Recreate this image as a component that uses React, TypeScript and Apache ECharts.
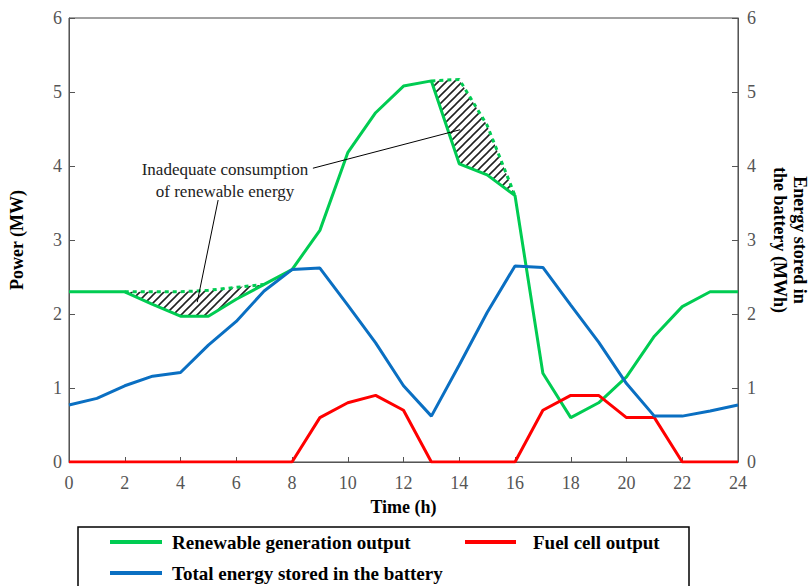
import React, { useEffect, useRef } from "react";
import * as echarts from "echarts";

const hours = [0, 1, 2, 3, 4, 5, 6, 7, 8, 9, 10, 11, 12, 13, 14, 15, 16, 17, 18, 19, 20, 21, 22, 23, 24];
const renewable = [2.3, 2.3, 2.3, 2.13, 1.97, 1.97, 2.2, 2.4, 2.6, 3.13, 4.18, 4.72, 5.08, 5.15, 4.03, 3.88, 3.6, 1.2, 0.6, 0.8, 1.15, 1.7, 2.1, 2.3, 2.3];
const fuelCell = [0, 0, 0, 0, 0, 0, 0, 0, 0, 0.6, 0.8, 0.9, 0.7, 0, 0, 0, 0, 0.7, 0.9, 0.9, 0.6, 0.6, 0, 0, 0];
const battery = [0.77, 0.86, 1.03, 1.16, 1.21, 1.58, 1.9, 2.31, 2.6, 2.62, 2.12, 1.61, 1.03, 0.62, 1.31, 2.02, 2.65, 2.63, 2.12, 1.62, 1.06, 0.62, 0.62, 0.69, 0.77];
const potential: (number | null)[] = [null, null, 2.3, 2.3, 2.3, 2.32, 2.36, 2.4, null, null, null, null, null, 5.15, 5.17, 4.55, 3.6, null, null, null, null, null, null, null, null];
const curtailWindows = [
  [2, 7],
  [13, 16],
];

const names = {
  ren: "Renewable generation output",
  fuel: "Fuel cell output",
  bat: "Total energy stored in the battery",
};

const FONT = "'Liberation Serif', 'Times New Roman', serif";
const GREEN = "#00CC52";
const RED = "#FF0000";
const BLUE = "#0A6FC2";

function hatchURL() {
  const svg =
    "<svg xmlns='http://www.w3.org/2000/svg' width='8' height='8'>" +
    "<path d='M-2,2 L2,-2 M0,8 L8,0 M6,10 L10,6' stroke='#222' stroke-width='1.6'/></svg>";
  return "data:image/svg+xml;charset=utf-8," + encodeURIComponent(svg);
}

export default function App() {
  const ref = useRef<HTMLDivElement>(null);
  useEffect(() => {
    if (!ref.current) return;
    const chart = echarts.init(ref.current, null, { renderer: "svg" });
    const pair = (arr: (number | null)[]) => hours.map((h, i) => [h, arr[i]]);
    const hatch = hatchURL();
    const axisColor = "#555";
    const yAxisBase = {
      type: "value",
      min: 0,
      max: 6,
      interval: 1,
      axisLine: { show: true, lineStyle: { color: axisColor } },
      axisTick: { show: true, inside: true, length: 6, lineStyle: { color: axisColor } },
      splitLine: { show: false },
      axisLabel: { color: "#555", fontSize: 18, fontFamily: FONT },
      nameLocation: "middle",
      nameTextStyle: { color: "#000", fontSize: 18, fontWeight: "bold", fontFamily: FONT, lineHeight: 20 },
    };
    chart.setOption({
      animation: false,
      grid: {
        left: 69,
        right: 73,
        top: 18,
        bottom: 124,
        show: true,
        borderColor: "#444",
        borderWidth: 1,
        containLabel: false,
        outerBoundsMode: "none",
      },
      xAxis: {
        type: "value",
        min: 0,
        max: 24,
        interval: 2,
        name: "Time (h)",
        nameLocation: "middle",
        nameGap: 36,
        nameTextStyle: { color: "#000", fontSize: 18, fontWeight: "bold", fontFamily: FONT },
        axisLine: { show: true, lineStyle: { color: axisColor } },
        axisTick: { show: true, inside: true, length: 5, lineStyle: { color: axisColor } },
        splitLine: { show: false },
        axisLabel: { color: "#555", fontSize: 18, fontFamily: FONT, margin: 12 },
      },
      yAxis: [
        {
          ...yAxisBase,
          position: "left",
          name: "Power (MW)",
          nameGap: 42,
          axisLabel: { ...yAxisBase.axisLabel, margin: 7 },
        },
        {
          ...yAxisBase,
          position: "right",
          name: "Energy stored in\nthe battery (MWh)",
          nameRotate: -90,
          nameGap: 32,
          axisLabel: { ...yAxisBase.axisLabel, margin: 9 },
        },
      ],
      legend: [
        {
          data: [names.ren, names.bat],
          orient: "vertical",
          left: 110,
          top: 532,
          padding: 0,
          itemGap: 11,
          icon: "rect",
          itemWidth: 52,
          itemHeight: 4,
          textStyle: { color: "#000", fontSize: 19, fontWeight: "bold", fontFamily: FONT, lineHeight: 20, padding: [0, 0, 0, 5] },
          selectedMode: false,
        },
        {
          data: [names.fuel],
          orient: "horizontal",
          left: 465,
          top: 532,
          padding: 0,
          icon: "rect",
          itemWidth: 51,
          itemHeight: 4,
          textStyle: { color: "#000", fontSize: 19, fontWeight: "bold", fontFamily: FONT, lineHeight: 20, padding: [0, 0, 0, 12] },
          selectedMode: false,
        },
      ],
      graphic: [
        {
          type: "rect",
          shape: { x: 78, y: 527, width: 611, height: 80 },
          style: { fill: "none", stroke: "#000", lineWidth: 1.5 },
          silent: true,
        },
        {
          type: "text",
          x: 225,
          y: 158,
          style: {
            text: "Inadequate consumption\nof renewable energy",
            fill: "#222",
            font: `17px ${FONT}`,
            textAlign: "center",
            lineHeight: 22,
          },
          silent: true,
        },
      ],
      series: [
        {
          name: "hatch",
          type: "custom",
          data: curtailWindows,
          silent: true,
          z: 1,
          renderItem: (params: any, api: any) => {
            const s = api.value(0);
            const e = api.value(1);
            const pts: number[][] = [];
            for (let h = s; h <= e; h++) pts.push(api.coord([h, potential[h] as number]));
            for (let h = e; h >= s; h--) pts.push(api.coord([h, renewable[h]]));
            return {
              type: "polygon",
              shape: { points: pts },
              style: { fill: { image: hatch, repeat: "repeat", imageWidth: 8, imageHeight: 8 }, stroke: "none" },
            };
          },
        },
        {
          name: "potential",
          type: "line",
          data: pair(potential),
          showSymbol: false,
          connectNulls: false,
          lineStyle: { color: GREEN, width: 3, type: [4, 4] },
          silent: true,
          z: 2,
        },
        {
          name: names.ren,
          type: "line",
          data: pair(renewable),
          showSymbol: false,
          color: GREEN,
          lineStyle: { color: GREEN, width: 3 },
          z: 3,
          markLine: {
            silent: true,
            symbol: ["none", "none"],
            label: { show: false },
            lineStyle: { color: "#000", width: 1, type: "solid" },
            data: [
              [{ coord: [8.75, 3.97] }, { coord: [14.03, 4.49] }],
              [{ coord: [5.35, 3.54] }, { coord: [4.6, 2.16] }],
            ],
          },
        },
        {
          name: names.fuel,
          type: "line",
          data: pair(fuelCell),
          showSymbol: false,
          color: RED,
          lineStyle: { color: RED, width: 3 },
          z: 3,
        },
        {
          name: names.bat,
          type: "line",
          yAxisIndex: 1,
          data: pair(battery),
          showSymbol: false,
          color: BLUE,
          lineStyle: { color: BLUE, width: 3 },
          z: 3,
        },
      ],
    });
    return () => chart.dispose();
  }, []);
  return <div ref={ref} style={{ width: 811, height: 586, position: "absolute", left: 0, top: 0 }} />;
}
